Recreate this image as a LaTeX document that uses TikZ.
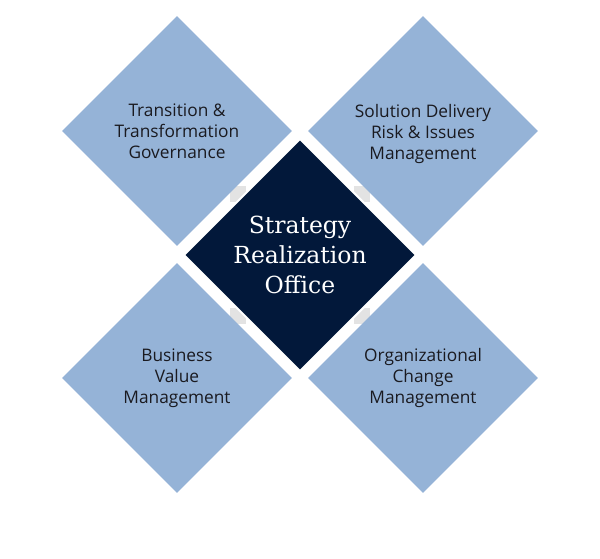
\documentclass[tikz,border=0pt]{standalone}
\usepackage{fontspec}
\usepackage{tikz}
\usetikzlibrary{shapes.geometric}
\setmainfont{Open Sans}
\newfontfamily\slabfont{DejaVu Serif}
\definecolor{petalblue}{HTML}{95B3D7}
\definecolor{corenavy}{HTML}{02183A}
\definecolor{textdark}{HTML}{1A1A20}

\begin{document}
\begin{tikzpicture}[x=1pt, y=-1pt,
    petal/.style={diamond, fill=petalblue, minimum width=230pt, minimum height=230pt,
        inner sep=0pt, align=center, text=textdark, font=\fontsize{17.3}{21}\selectfont},
    core/.style={diamond, fill=corenavy, draw=white, line width=2pt, minimum width=233pt,
        minimum height=233pt, inner sep=0pt, align=center, text=white,
        font=\slabfont\fontsize{23.5}{30}\selectfont},
    link/.style={fill=gray!22}]
    % 画布
    \useasboundingbox (0,0) rectangle (600,559);
    
    % 连接小方块
    \foreach \x/\y in {238/194, 362/194, 238/316, 362/316}
        \fill[link] (\x-8,\y-8) rectangle (\x+8,\y+8);
    
    % 四个外侧菱形
    \node[petal] (govern) at (177,131) {Transition \&\\Transformation\\Governance};
    \node[petal] (risk) at (423,131) {\rule{0pt}{20pt}Solution Delivery\\Risk \& Issues\\Management};
    \node[petal] (value) at (177,378) {Business\\Value\\Management};
    \node[petal] (change) at (423,378) {Organizational\\Change\\Management};
    
    % 中心菱形
    \node[core] (office) at (300,255) {Strategy\\Realization\\Office};
    
\end{tikzpicture}
\end{document}
